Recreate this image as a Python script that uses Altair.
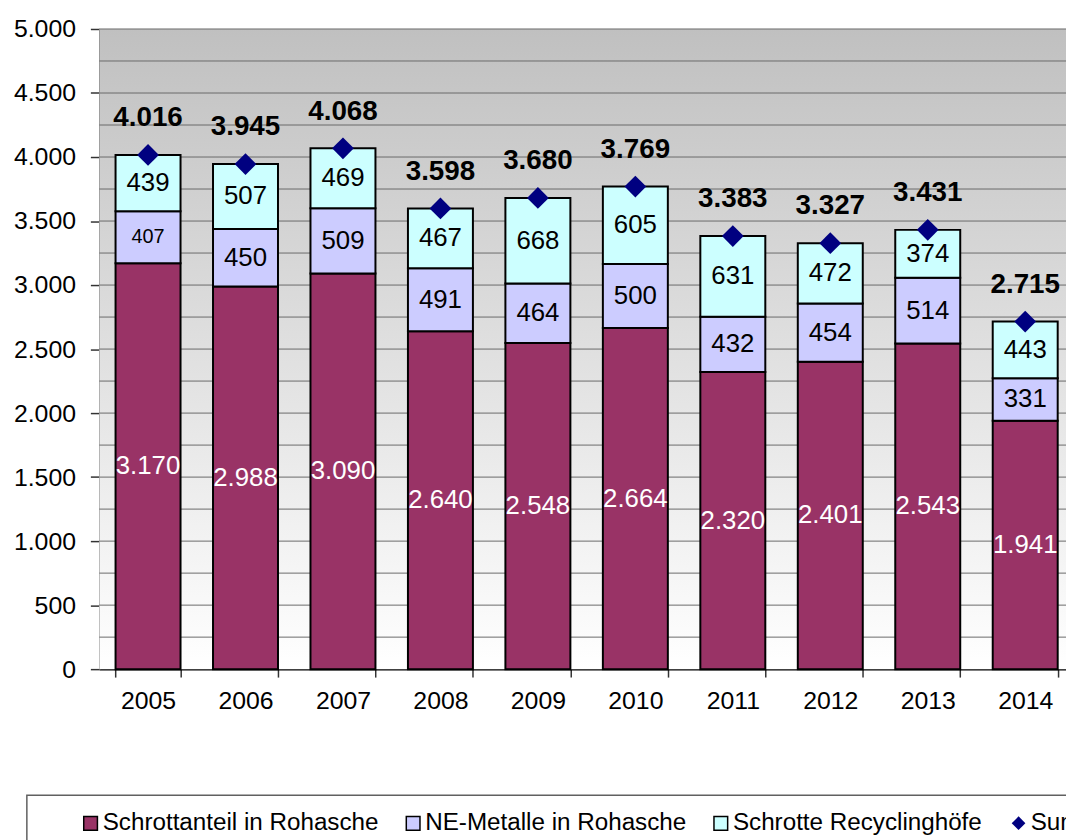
import altair as alt
import pandas as pd

years = ["2005", "2006", "2007", "2008", "2009", "2010", "2011", "2012", "2013", "2014"]
schrott = [3170, 2988, 3090, 2640, 2548, 2664, 2320, 2401, 2543, 1941]
ne_metalle = [407, 450, 509, 491, 464, 500, 432, 454, 514, 331]
recycling = [439, 507, 469, 467, 668, 605, 631, 472, 374, 443]
summe = [4016, 3945, 4068, 3598, 3680, 3769, 3383, 3327, 3431, 2715]
bar_series = ["Schrottanteil in Rohasche", "NE-Metalle in Rohasche",
              "Schrotte Recyclinghöfe"]
bar_colors = ["#993366", "#CCCCFF", "#CCFFFF"]
sum_series = ["Summe"]
sum_color = "#000080"
y_ticks = [0, 500, 1000, 1500, 2000, 2500, 3000, 3500, 4000, 4500, 5000]
grid_values = [250, 500, 750, 1000, 1250, 1500, 1750, 2000, 2250, 2500, 2750, 3000,
               3250, 3500, 3750, 4000, 4250, 4500, 4750, 5000]


def de(v):
    return f"{v:,}".replace(",", ".")


rows = []
for i, yr in enumerate(years):
    base = 0
    for k, vals in enumerate([schrott, ne_metalle, recycling]):
        v = vals[i]
        rows.append(dict(year=yr, series=bar_series[k], idx=k, value=v,
                         mid=base + v / 2, label=de(v)))
        base += v
seg = pd.DataFrame(rows)
tot = pd.DataFrame(dict(year=years, series=sum_series[0], value=summe,
                        label=[de(v) for v in summe]))
grid_df = pd.DataFrame(dict(v=grid_values))

FONT = "Liberation Sans"
W, H = 982, 645

xs = alt.X("year:N", title=None,
           scale=alt.Scale(paddingInner=1 / 3, paddingOuter=1 / 6),
           axis=alt.Axis(labelAngle=0, tickBand="extent", tickSize=8, labelPadding=12,
                         labelFont=FONT, labelFontSize=25, labelColor="black",
                         domainColor="black", domainWidth=1.5, tickColor="#333",
                         tickWidth=1.5, grid=False))
yscale = alt.Scale(domain=[0, 5000], nice=False)
yaxis = alt.Axis(values=y_ticks, grid=False, tickSize=9, labelPadding=15,
                 labelFont=FONT, labelFontSize=25, labelColor="black",
                 domainColor="#333", domainWidth=1.5, tickColor="#333", tickWidth=1.5,
                 labelExpr="replace(format(datum.value, ','), ',', '.')")

leg_common = dict(title=None, orient="none", direction="horizontal", labelFont=FONT,
                  labelFontSize=24.4, labelColor="black", labelLimit=500,
                  symbolSize=190, symbolOpacity=1, labelOffset=0, padding=0)
bar_legend = alt.Legend(legendX=-21, legendY=788, columnPadding=22,
                        symbolStrokeColor="black", symbolStrokeWidth=1.5,
                        symbolType="square", **leg_common)
sum_legend = alt.Legend(legendX=914, legendY=788, symbolFillColor=sum_color,
                        symbolStrokeWidth=0, **leg_common)

bg = alt.Chart(alt.Data(values=[{}])).mark_rect(
    color=alt.LinearGradient(
        gradient="linear",
        stops=[alt.GradientStop(color="#c0c0c0", offset=0),
               alt.GradientStop(color="#ffffff", offset=1)],
        x1=0, x2=0, y1=0, y2=1)
).encode(x=alt.value(0), x2=alt.value(W),
         y=alt.datum(5000, scale=yscale), y2=alt.datum(0))

grid = alt.Chart(grid_df).mark_rule(color="#6a6a6a", strokeWidth=1).encode(
    y=alt.Y("v:Q", scale=yscale, axis=yaxis, title=None))

bars = alt.Chart(seg).mark_bar(stroke="black", strokeWidth=2).encode(
    x=xs,
    y=alt.Y("value:Q", stack="zero", scale=yscale, axis=yaxis, title=None),
    color=alt.Color("series:N", scale=alt.Scale(domain=bar_series, range=bar_colors),
                    legend=bar_legend),
    order=alt.Order("idx:Q"),
)

seg_text = alt.Chart(seg).mark_text(font=FONT, baseline="middle", align="center").encode(
    x=xs,
    y=alt.Y("mid:Q", scale=yscale),
    text="label:N",
    fill=alt.condition("datum.idx == 0", alt.value("white"), alt.value("black")),
    size=alt.condition("datum.idx == 1 && datum.year == '2005'", alt.value(20), alt.value(26)),
)

pts = alt.Chart(tot).mark_point(filled=True, size=480, opacity=1, color=sum_color).encode(
    x=xs,
    y=alt.Y("value:Q", scale=yscale),
    shape=alt.Shape("series:N", scale=alt.Scale(domain=sum_series, range=["diamond"]),
                    legend=sum_legend),
)

tot_text = alt.Chart(tot).mark_text(font=FONT, fontWeight="bold", fontSize=28,
                                    baseline="alphabetic", dy=-29, color="black").encode(
    x=xs,
    y=alt.Y("value:Q", scale=yscale),
    text="label:N",
)

legend_box = alt.Chart(alt.Data(values=[{}])).mark_rect(
    fill="white", stroke="#606060", strokeWidth=1.5
).encode(x=alt.value(-73), x2=alt.value(1100), y=alt.value(772), y2=alt.value(900))

chart = alt.layer(bg, grid, bars, seg_text, pts, tot_text, legend_box).properties(
    width=W, height=H,
    autosize=alt.AutoSizeParams(type="none"),
    padding={"left": 92, "top": 18, "right": -8, "bottom": 169},
    background="white",
).resolve_scale(color="independent", shape="independent").configure_view(stroke=None)

chart.save("out.html", embed_options={"renderer": "svg", "actions": False})
